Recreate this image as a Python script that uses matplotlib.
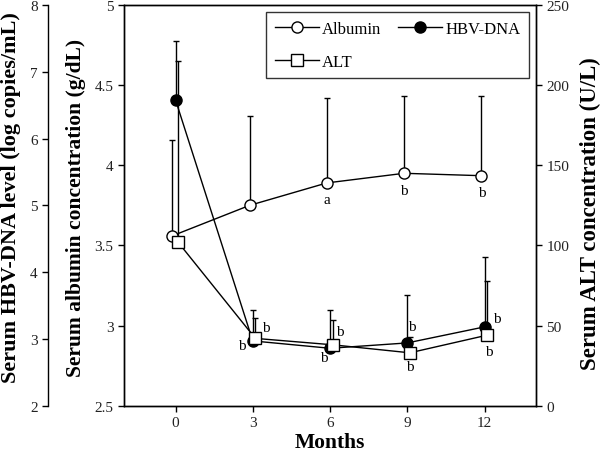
import numpy as np
import matplotlib
matplotlib.use("Agg")
import matplotlib.pyplot as plt

plt.rcParams['font.family'] = ['Liberation Serif', 'DejaVu Serif']

months = [0, 3, 6, 9, 12]

albumin = [3.56, 3.75, 3.89, 3.95, 3.935]
albumin_sd = [0.60, 0.56, 0.53, 0.48, 0.495]
albumin_marks = ['', '', 'a', 'b', 'b']

hbv = [6.58, 2.97, 2.86, 2.94, 3.18]
hbv_sd = [0.88, 0.46, 0.57, 0.72, 1.04]
hbv_marks = ['', 'b', 'b', 'b', 'b']

alt = [102, 42, 38, 33, 44]
alt_sd = [113, 13, 15.5, 10, 33.6]
alt_marks = ['', 'b', 'b', 'b', 'b']

fig = plt.figure(figsize=(6, 4.56), dpi=100)
ax = fig.add_axes([124/600, 1-406.7/456, 412/600, 400.7/456])
ax_hbv = ax.twinx()
ax_alt = ax.twinx()

x = np.array(months, dtype=float)
mk = dict(color='black', lw=1, ms=8, mec='black', mew=1)
eb = dict(fmt='none', ecolor='black', elinewidth=1, capsize=2, capthick=1)

# albumin (inner left axis)
xa = x - 0.12
ax.errorbar(xa, albumin, yerr=[np.zeros(5), albumin_sd], **eb)
ax.plot(xa, albumin, marker='o', mfc='white', label='Albumin', **mk)
ax.set_ylim(2.5, 5)
ax.set_yticks([2.5, 3, 3.5, 4, 4.5, 5])
ax.set_yticklabels(['2.5', '3', '3.5', '4', '4.5', '5'])
ax.set_xlim(-2, 14)
ax.set_xticks(months)
ax.set_xlabel('Months', fontsize=15.5, fontweight='bold')
ax.xaxis.set_label_coords(0.5, -0.066)
ax.set_ylabel('Serum albumin concentration (g/dL)', fontsize=15.5, fontweight='bold')
ax.yaxis.set_label_coords(-0.092, 0.497)

# HBV-DNA (outer left axis)
ax_hbv.errorbar(x, hbv, yerr=[np.zeros(5), hbv_sd], **eb)
ax_hbv.plot(x, hbv, marker='o', mfc='black', label='HBV-DNA', **mk)
ax_hbv.set_ylim(2, 8)
ax_hbv.yaxis.set_ticks_position('left')
ax_hbv.yaxis.set_label_position('left')
ax_hbv.spines['left'].set_position(('axes', -76/412))
ax_hbv.spines['left'].set_visible(True)
for s in ['right', 'top', 'bottom']:
    ax_hbv.spines[s].set_visible(False)
ax_hbv.set_ylabel('Serum HBV-DNA level (log copies/mL)', fontsize=16, fontweight='bold')
ax_hbv.yaxis.set_label_coords(-0.25, 0.522)

# ALT (right axis)
xl = x + 0.1
ax_alt.errorbar(xl, alt, yerr=[np.zeros(5), alt_sd], **eb)
ax_alt.plot(xl, alt, marker='s', mfc='white', label='ALT', **mk)
ax_alt.set_ylim(0, 250)
ax_alt.set_ylabel('Serum ALT concentration (U/L)', fontsize=16.5, fontweight='bold')
ax_alt.yaxis.set_label_coords(1.107, 0.482)

for a in [ax, ax_hbv, ax_alt]:
    a.tick_params(direction='out', length=4, width=1, labelsize=11, labelcolor='#222222')
    for s in a.spines.values():
        s.set_linewidth(1)

# significance letters
for i in range(5):
    if albumin_marks[i]:
        ax.annotate(albumin_marks[i], (xa[i], albumin[i]), xytext=(0, -17),
                    textcoords='offset pixels', ha='center', va='center', fontsize=11)
hbv_off = [(0, 0), (-11, -5), (-6, -9), (5, 16), (12, 8)]
alt_off = [(0, 0), (11, 11), (7, 13), (0, -14), (2, -16)]
for i in range(5):
    if hbv_marks[i]:
        ax_hbv.annotate(hbv_marks[i], (x[i], hbv[i]), xytext=hbv_off[i],
                        textcoords='offset pixels', ha='center', va='center', fontsize=11)
    if alt_marks[i]:
        ax_alt.annotate(alt_marks[i], (xl[i], alt[i]), xytext=alt_off[i],
                        textcoords='offset pixels', ha='center', va='center', fontsize=11)

h1, l1 = ax.get_legend_handles_labels()
h2, l2 = ax_hbv.get_legend_handles_labels()
h3, l3 = ax_alt.get_legend_handles_labels()
leg = ax_alt.legend([h1[0], h3[0], h2[0]], [l1[0], l3[0], l2[0]], ncol=2,
                    loc='upper right', bbox_to_anchor=(0.983, 0.982), fontsize=12,
                    frameon=True, fancybox=False, edgecolor='black',
                    handlelength=2.65, columnspacing=1.0, handletextpad=0.2,
                    borderpad=0.5, labelspacing=1.03, borderaxespad=0)
leg.get_frame().set_linewidth(1)

fig.savefig('out.png', dpi=100)
